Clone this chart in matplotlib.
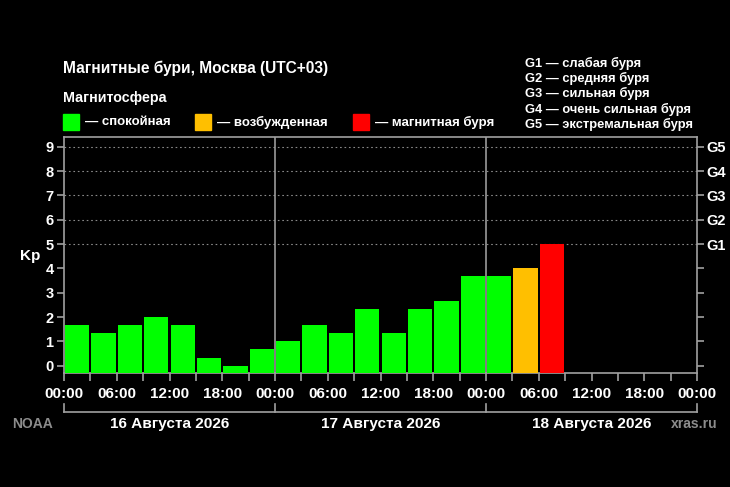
import numpy as np
import matplotlib
matplotlib.use("Agg")
import matplotlib.pyplot as plt
import matplotlib.transforms as mtransforms

plt.rcParams['font.family'] = ['Liberation Sans', 'DejaVu Sans']

# Kp index, 3-hour intervals starting 16 Aug 00:00
kp = [1.67, 1.33, 1.67, 2.0, 1.67, 0.33, 0.0, 0.67,
      1.0, 1.67, 1.33, 2.33, 1.33, 2.33, 2.67, 3.67,
      3.67, 4.0, 5.0]
days = ["16 Августа 2026", "17 Августа 2026", "18 Августа 2026"]
hour_labels = ["00:00", "06:00", "12:00", "18:00"] * 3 + ["00:00"]
g_labels = ["G1", "G2", "G3", "G4", "G5"]
g_legend = ["G1 — слабая буря", "G2 — средняя буря", "G3 — сильная буря",
            "G4 — очень сильная буря", "G5 — экстремальная буря"]
legend_items = [("— спокойная", "#00ff00"), ("— возбужденная", "#ffbf00"),
                ("— магнитная буря", "#ff0000")]

W, H = 730, 487


def col(v):
    if v >= 5:
        return "#ff0000"
    if v >= 4:
        return "#ffbf00"
    return "#00ff00"


def fx(x):
    return x / W


def fy(y):
    return 1 - y / H


fig = plt.figure(figsize=(7.3, 4.87), dpi=100, facecolor="black")
ax = fig.add_axes([fx(64), fy(373), fx(697) - fx(64), fy(137) - fy(373)])
ax.set_facecolor("black")

ymin = -0.3
x = np.arange(len(kp)) * 3 + 1.5
ax.bar(x, np.array(kp) - ymin, bottom=ymin, width=2.75,
       color=[col(v) for v in kp], edgecolor="none", zorder=3)

ax.set_xlim(0, 72)
ax.set_ylim(ymin, 9.4)

for d in (24, 48):
    ax.axvline(d, color="#9a9a9a", lw=1.2, zorder=2)
for g in range(5, 10):
    ax.axhline(g, color="#8a8a8a", lw=0.8, ls=(0, (1.5, 2.5)), zorder=1)

for s in ax.spines.values():
    s.set_color("#a0a0a0")
    s.set_linewidth(1.2)

ax.set_xticks(np.arange(0, 73, 6))
ax.set_xticklabels(hour_labels)
ax.set_xticks(np.arange(0, 73, 3), minor=True)
ax.set_yticks(range(10))
ax.tick_params(axis="x", which="both", colors="#a0a0a0", length=6, width=1.2,
               labelcolor="white", labelsize=11, pad=4)
ax.tick_params(axis="y", colors="#a0a0a0", length=5, width=1.2,
               labelcolor="white", labelsize=10.5, pad=2.5)
for t in ax.get_xticklabels() + ax.get_yticklabels():
    t.set_fontweight("bold")

ax2 = ax.twinx()
ax2.set_ylim(ymin, 9.4)
ax2.set_yticks(range(10))
ax2.set_yticklabels([""] * 5 + g_labels)
ax2.tick_params(axis="y", colors="#a0a0a0", length=5, width=1.2,
                labelcolor="white", labelsize=10.5, pad=2)
for t in ax2.get_yticklabels():
    t.set_fontweight("bold")
for s in ax2.spines.values():
    s.set_visible(False)

ax.text(-0.054, 4.5, "Kp", transform=mtransforms.blended_transform_factory(ax.transAxes, ax.transData),
        color="white", fontsize=11, fontweight="bold", ha="center", va="center")

# day bracket
tr = mtransforms.blended_transform_factory(ax.transData, ax.transAxes)
yb = -(412 - 373) / 236
yt = -(404 - 373) / 236
ax.plot([0, 72], [yb, yb], color="#a0a0a0", lw=1.2, transform=tr, clip_on=False)
for d in (0, 24, 48, 72):
    ax.plot([d, d], [yb, yt], color="#a0a0a0", lw=1.2, transform=tr, clip_on=False)
for i, d in enumerate(days):
    ax.text(12 + 24 * i, -(424 - 373) / 236, d, transform=tr, color="white",
            fontsize=11.1, fontweight="bold", ha="center", va="center")

fig.text(fx(12), fy(424), "NOAA", color="#8c8c8c", fontsize=10, fontweight="bold", va="center")
fig.text(fx(718), fy(424), "xras.ru", color="#8c8c8c", fontsize=10, fontweight="bold",
         va="center", ha="right")

fig.text(fx(63), fy(68), "Магнитные бури, Москва (UTC+03)", color="white",
         fontsize=11.2, fontweight="bold", va="center")
fig.text(fx(63), fy(98), "Магнитосфера", color="white", fontsize=10.3,
         fontweight="bold", va="center")
lx = [63, 195, 353]
for (lab, c), x0 in zip(legend_items, lx):
    fig.patches.append(plt.Rectangle((fx(x0), fy(130)), fx(16), 16 / H, color=c,
                                     transform=fig.transFigure, figure=fig))
    fig.text(fx(x0 + 22), fy(122), lab, color="white", fontsize=9.5,
             fontweight="bold", va="center")

for i, g in enumerate(g_legend):
    fig.text(fx(525), fy(63 + 15.4 * i), g, color="white", fontsize=9.3,
             fontweight="bold", va="center")

fig.savefig("out.png", dpi=100, facecolor="black")
